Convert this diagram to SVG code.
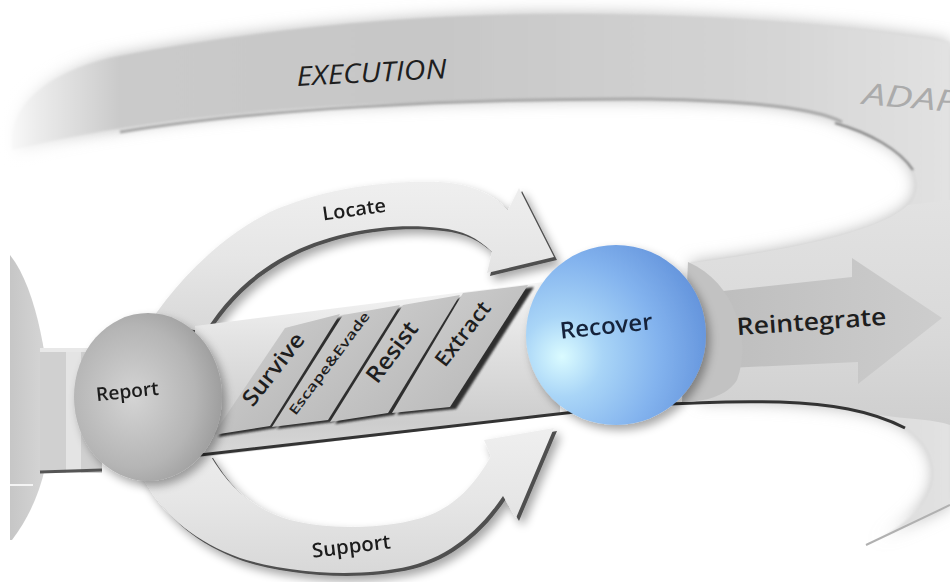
<svg xmlns="http://www.w3.org/2000/svg" width="950" height="582" viewBox="0 0 950 582">
<defs>
<style>
.lbl{font-family:"Open Sans","Liberation Sans",sans-serif;fill:#1e1e1e;text-anchor:middle;font-weight:600}
.plate{fill:url(#plateG)}
.plateEdge{fill:#2e2e2e}
.arrow{fill:url(#arrowG)}
.arrowEdge{fill:#505050}
</style>
<linearGradient id="bandG" x1="0" y1="0" x2="1" y2="0">
<stop offset="0" stop-color="#cbcbcb"/><stop offset="0.45" stop-color="#c7c7c7"/><stop offset="0.8" stop-color="#d4d4d4"/><stop offset="1" stop-color="#e2e2e2"/>
</linearGradient>
<linearGradient id="fadeL" x1="0" y1="0" x2="1" y2="0">
<stop offset="0" stop-color="#ffffff" stop-opacity="1"/><stop offset="0.25" stop-color="#ffffff" stop-opacity="0.7"/><stop offset="1" stop-color="#ffffff" stop-opacity="0"/>
</linearGradient>
<linearGradient id="trackR" x1="0" y1="0" x2="0" y2="1">
<stop offset="0" stop-color="#e2e2e2"/><stop offset="0.6" stop-color="#d9d9d9"/><stop offset="1" stop-color="#cfcfcf"/>
</linearGradient>
<linearGradient id="trackG" x1="0" y1="0" x2="0" y2="1">
<stop offset="0" stop-color="#f6f6f6"/><stop offset="0.35" stop-color="#e2e2e2"/><stop offset="0.8" stop-color="#cdcdcd"/><stop offset="1" stop-color="#d9d9d9"/>
</linearGradient>
<linearGradient id="plateG" x1="0" y1="0" x2="1" y2="1">
<stop offset="0" stop-color="#d2d2d2"/><stop offset="1" stop-color="#b3b3b3"/>
</linearGradient>
<linearGradient id="arrowG" x1="0" y1="0" x2="0" y2="1">
<stop offset="0" stop-color="#efefef"/><stop offset="0.5" stop-color="#e6e6e6"/><stop offset="1" stop-color="#d8d8d8"/>
</linearGradient>
<linearGradient id="reintG" x1="0" y1="0" x2="1" y2="0">
<stop offset="0" stop-color="#bdbdbd"/><stop offset="1" stop-color="#cdcdcd"/>
</linearGradient>
<linearGradient id="leftG" x1="0" y1="0" x2="1" y2="0">
<stop offset="0" stop-color="#c6c6c6"/><stop offset="0.8" stop-color="#d4d4d4"/><stop offset="1" stop-color="#c0c0c0"/>
</linearGradient>
<radialGradient id="recG" cx="0.2" cy="0.62" r="0.9">
<stop offset="0" stop-color="#dafbff"/><stop offset="0.25" stop-color="#a9d5f7"/><stop offset="0.6" stop-color="#83b3ee"/><stop offset="1" stop-color="#5d8dd8"/>
</radialGradient>
<radialGradient id="repG" cx="0.4" cy="0.5" r="0.7">
<stop offset="0" stop-color="#d4d4d4"/><stop offset="0.6" stop-color="#b5b5b5"/><stop offset="1" stop-color="#929292"/>
</radialGradient>
<filter id="blur8" x="-20%" y="-20%" width="140%" height="140%"><feGaussianBlur stdDeviation="8"/></filter>
<filter id="blur1" x="-10%" y="-10%" width="120%" height="120%"><feGaussianBlur stdDeviation="1"/></filter>
<filter id="drop" x="-20%" y="-20%" width="150%" height="150%">
<feGaussianBlur in="SourceAlpha" stdDeviation="5"/><feOffset dx="4" dy="5"/>
<feComponentTransfer><feFuncA type="linear" slope="0.35"/></feComponentTransfer>
<feMerge><feMergeNode/><feMergeNode in="SourceGraphic"/></feMerge>
</filter>
</defs>
<rect width="950" height="582" fill="#ffffff"/>

<g id="background">
<path d="M12,150 C8,110 40,75 110,58 C260,28 420,14 560,14 C720,14 860,26 950,42 L950,505 L866,545 C905,528 935,500 933,470 C930,440 905,422 867,413 C830,405 760,400 700,401 L690,263 C790,250 880,232 908,205 C925,188 915,160 885,143 C862,130 848,125 842,122 C820,112 780,104 727,102 C650,98 480,98 330,106 C150,118 60,138 12,150 Z" fill="#b8b8b8" filter="url(#blur8)"/>
<path d="M12,150 C8,110 40,75 110,58 C260,28 420,14 560,14 C720,14 860,26 950,42 L950,505 L866,545 C905,528 935,500 933,470 C930,440 905,422 867,413 C830,405 760,400 700,401 L690,263 C790,250 880,232 908,205 C925,188 915,160 885,143 C862,130 848,125 842,122 C820,112 780,104 727,102 C650,98 480,98 330,106 C150,118 60,138 12,150 Z" fill="url(#bandG)" filter="url(#blur1)"/>
<rect x="0" y="30" width="120" height="140" fill="url(#fadeL)"/>
<path d="M690,263 C790,250 880,232 908,205 L950,200 L950,425 C930,418 905,420 867,413 C830,405 760,400 700,401 Z" fill="url(#trackR)"/>
<path d="M120,132 C250,110 450,98 650,99 C760,101 820,110 842,122" fill="none" stroke="#a8a8a8" stroke-width="3" filter="url(#blur1)"/>
<path d="M835,123 C870,133 900,150 913,170" fill="none" stroke="#7a7a7a" stroke-width="2" filter="url(#blur1)"/>
<path d="M866,545 L950,505" fill="none" stroke="#b0b0b0" stroke-width="2"/>
<path d="M10,255 C38,290 50,370 50,420 C50,470 35,510 12,540 L10,540 Z" fill="url(#leftG)"/>
<path d="M10,485 L33,485" stroke="#f4f4f4" stroke-width="2"/>
</g>

<g id="node-execution">
<text class="lbl" transform="translate(372,82) rotate(-3)" font-size="27" font-style="italic" style="font-weight:400" textLength="150" lengthAdjust="spacingAndGlyphs">EXECUTION</text>
</g>
<g id="node-adapt">
<text transform="translate(862,104) rotate(5)" font-family="Open Sans, Liberation Sans, sans-serif" font-size="30" font-style="italic" fill="#ababab" textLength="96" lengthAdjust="spacingAndGlyphs">ADAP</text>
</g>

<g id="connectors">
<rect x="40" y="348" width="62" height="125" fill="#d0d0d0"/>
<rect x="66" y="348" width="15" height="125" fill="#e4e4e4"/>
<rect x="40" y="348" width="62" height="4" fill="#e8e8e8"/>
<path d="M40,472 L102,470" stroke="#555" stroke-width="3"/>

<g id="conn-support" filter="url(#drop)">
<path class="arrowEdge" transform="translate(3,3)" d="M138,468 C155,505 185,538 240,558 C290,574 360,578 410,566 C450,556 480,530 503,496 L516,518 L554,428 L484,440 L491,456 C475,485 455,505 430,515 C390,530 330,530 290,520 C250,508 228,485 210,455 Z"/>
<path class="arrow" d="M138,468 C155,505 185,538 240,558 C290,574 360,578 410,566 C450,556 480,530 503,496 L516,518 L554,428 L484,440 L491,456 C475,485 455,505 430,515 C390,530 330,530 290,520 C250,508 228,485 210,455 Z"/>
<text class="lbl" transform="translate(352,553) rotate(-7)" font-size="20" textLength="79" lengthAdjust="spacingAndGlyphs">Support</text>
</g>

<g id="conn-locate" filter="url(#drop)">
<path class="arrowEdge" transform="translate(3,3)" d="M150,322 C175,285 215,240 270,212 C320,190 380,180 440,182 C470,184 492,193 508,210 L519,188 L554,257 L487,273 L492,252 C478,238 462,230 440,228 C390,222 330,232 285,256 C250,275 225,300 205,332 Z"/>
<path class="arrow" d="M150,322 C175,285 215,240 270,212 C320,190 380,180 440,182 C470,184 492,193 508,210 L519,188 L554,257 L487,273 L492,252 C478,238 462,230 440,228 C390,222 330,232 285,256 C250,275 225,300 205,332 Z"/>
<text class="lbl" transform="translate(355,216) rotate(-8)" font-size="19" textLength="64" lengthAdjust="spacingAndGlyphs">Locate</text>
</g>

<g id="track">
<path d="M195,326 L560,280 L560,414 L195,458 Z" fill="url(#trackG)"/>
<path d="M200,455 L540,416 C620,406 700,400 780,402 C830,404 870,410 905,428" fill="none" stroke="#333" stroke-width="3"/>
</g>

<g id="conn-reintegrate">
<path d="M705,293 L852,277 L852,258 L942,318 L858,384 L858,362 L728,368 Z" fill="url(#reintG)"/>
<path d="M688,262 C735,282 752,340 737,380 C727,396 705,402 682,402 Z" fill="#c2c2c2"/>
</g>
</g>

<g id="node-survive">
<path class="plateEdge" d="M218,437 L276,428 L346,316 L290,329 Z" filter="url(#blur1)"/>
<path class="plate" d="M213,435 L270,426 L340,314 L285,328 Z"/>
<text class="lbl" transform="translate(273,369) rotate(-52)" font-size="22" dy="8" textLength="86" lengthAdjust="spacingAndGlyphs">Survive</text>
</g>
<g id="node-escape">
<path class="plateEdge" d="M277,429 L334,422 L406,307 L348,317 Z" filter="url(#blur1)"/>
<path class="plate" d="M272,427 L328,420 L400,305 L343,315 Z"/>
<text class="lbl" transform="translate(329,363) rotate(-53)" font-size="13" dy="5" textLength="125" lengthAdjust="spacingAndGlyphs">Escape&amp;Evade</text>
</g>
<g id="node-resist">
<path class="plateEdge" d="M335,424 L394,415 L466,297 L408,307 Z" filter="url(#blur1)"/>
<path class="plate" d="M330,422 L388,413 L460,295 L403,305 Z"/>
<text class="lbl" transform="translate(392,352) rotate(-53)" font-size="23" dy="8" textLength="70" lengthAdjust="spacingAndGlyphs">Resist</text>
</g>
<g id="node-extract">
<path class="plateEdge" d="M397,415 L456,409 L534,287 L469,295 Z" filter="url(#blur1)"/>
<path class="plate" d="M392,413 L450,407 L528,285 L463,293 Z"/>
<text class="lbl" transform="translate(463,334) rotate(-52)" font-size="21" dy="7" textLength="76" lengthAdjust="spacingAndGlyphs">Extract</text>
</g>

<g id="node-report" filter="url(#drop)">
<ellipse cx="148" cy="397" rx="74" ry="84" fill="url(#repG)"/>
<text class="lbl" transform="translate(128,398) rotate(-6)" font-size="19" textLength="63" lengthAdjust="spacingAndGlyphs">Report</text>
</g>

<g id="node-recover" filter="url(#drop)">
<circle cx="616" cy="335" r="90" fill="url(#recG)"/>
<text class="lbl" transform="translate(607,334) rotate(-6)" font-size="23" style="fill:#14243a" textLength="93" lengthAdjust="spacingAndGlyphs">Recover</text>
</g>

<g id="node-reintegrate">
<text class="lbl" transform="translate(812,330) rotate(-4)" font-size="24" textLength="150" lengthAdjust="spacingAndGlyphs">Reintegrate</text>
</g>
</svg>
